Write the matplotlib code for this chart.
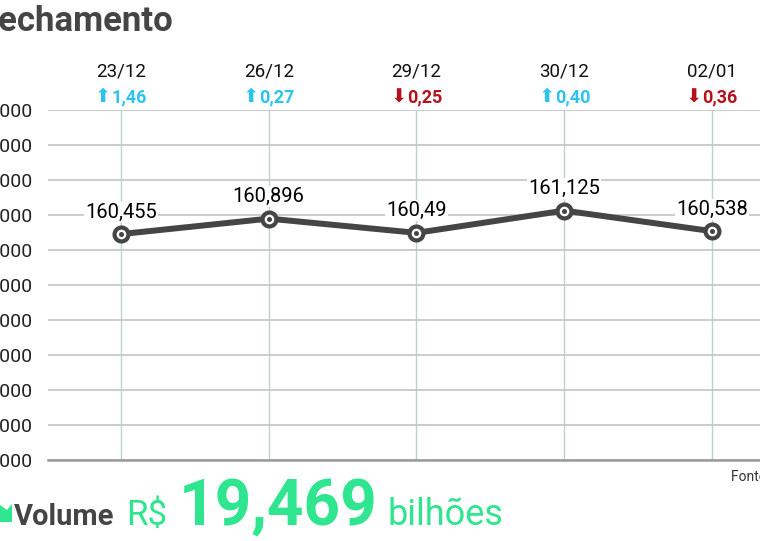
import matplotlib
matplotlib.use("Agg")
import matplotlib.pyplot as plt
import matplotlib.transforms as mtransforms
from matplotlib.patches import Polygon
from matplotlib.offsetbox import TextArea, HPacker, AnnotationBbox

plt.rcParams['font.family'] = ['Roboto', 'DejaVu Sans']

# data
dates = ["23/12", "26/12", "29/12", "30/12", "02/01"]
closes = [160455, 160896, 160490, 161125, 160538]
closeLabels = ["160,455", "160,896", "160,49", "161,125", "160,538"]
changes = ["1,46", "0,27", "0,25", "0,40", "0,36"]
changeUp = [True, True, False, True, False]
yTicks = list(range(154000, 165000, 1000))
volumeText = "19,469"

W, H = 760, 541
darkGray = "#454545"
upColor = "#2cc3ee"
downColor = "#b3121d"
green = "#2fe58f"

fig = plt.figure(figsize=(W / 100, H / 100), dpi=100)
ax = fig.add_axes([48 / W, 1 - 460 / H, 712 / W, 350 / H])

x = list(range(len(dates)))
ax.plot(x, closes, color=darkGray, lw=4.3, zorder=3, solid_capstyle='round')
ax.plot(x, closes, ls='none', marker='o', ms=10, mfc='white', mec=darkGray, mew=3, zorder=4)
ax.plot(x, closes, ls='none', marker='o', ms=2.6, color=darkGray, zorder=5)

for xi, v, lab in zip(x, closes, closeLabels):
    ax.annotate(lab, (xi, v), xytext=(0, 9), textcoords='offset points',
                ha='center', va='bottom', fontsize=14.5, color='black', zorder=6,
                bbox=dict(boxstyle='square,pad=0.05', fc='white', ec='none'))

ax.set_xlim(-0.494, 4.325)
ax.set_ylim(154000, 164000)
ax.set_xticks(x)
ax.set_xticklabels([])
ax.set_yticks(yTicks)
ax.set_yticklabels([f"{t:,}".replace(",", ".") for t in yTicks], fontsize=14, color='#222222')
ax.tick_params(length=0, pad=11)
ax.grid(axis='y', color='#c4c4c4', lw=1.2, zorder=1)
ax.grid(axis='x', color='#b9d3d1', lw=1.0, zorder=1)
for s in ['top', 'left', 'right']:
    ax.spines[s].set_visible(False)
ax.spines['bottom'].set_color('#9a9a9a')
ax.spines['bottom'].set_linewidth(1.8)

trans = mtransforms.blended_transform_factory(ax.transData, ax.transAxes)
for xi, d, c, up in zip(x, dates, changes, changeUp):
    ax.text(xi, 1 + 38 / 350, d, transform=trans, ha='center', va='center',
            fontsize=13.5, color='#111111')
    col = upColor if up else downColor
    arrow = TextArea("\u2b06" if up else "\u2b07",
                     textprops=dict(family='DejaVu Sans', fontsize=14, color=col))
    num = TextArea(c, textprops=dict(fontsize=13, fontweight='bold', color=col))
    box = HPacker(children=[arrow, num], align='center', pad=0, sep=0)
    ax.add_artist(AnnotationBbox(box, (xi, 1 + 13 / 350), xycoords=trans,
                                 frameon=False, box_alignment=(0.5, 0.5),
                                 annotation_clip=False))

# title, cropped on the left like the original
fig.text(-20 / W, 1 - 31 / H, "Fechamento", fontsize=25, fontweight='bold',
         color=darkGray, ha='left', va='baseline')

fig.text(731 / W, 1 - 477 / H, "Fonte: B3", fontsize=10, color='#333333',
         ha='left', va='center')

# volume line
fig.patches.append(Polygon([(0, 1 - 522 / H), (12 / W, 1 - 522 / H), (12 / W, 1 - 504 / H),
                            (7 / W, 1 - 510 / H), (0, 1 - 505 / H)],
                           closed=True, transform=fig.transFigure, fc=green, ec='none'))
base = 1 - 525 / H
fig.text(14 / W, base, "Volume", fontsize=21, fontweight='bold', color=darkGray, va='baseline')
fig.text(126 / W, base, "R$", fontsize=25, color=green, va='baseline')
fig.text(179 / W, base, volumeText, fontsize=46, fontweight='bold', color=green, va='baseline')
fig.text(387 / W, base, "bilhões", fontsize=26, color=green, va='baseline')

fig.savefig("out.png", dpi=100)
